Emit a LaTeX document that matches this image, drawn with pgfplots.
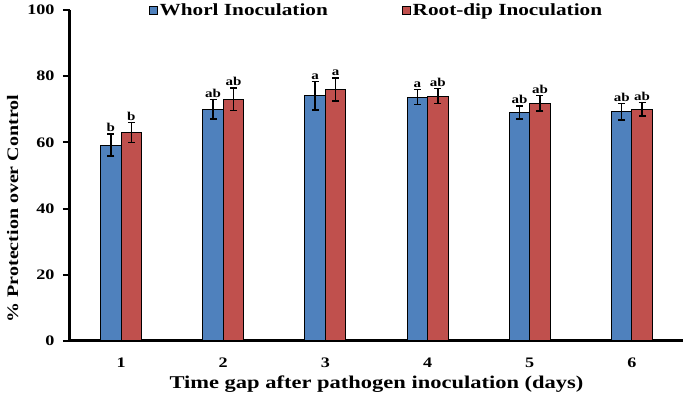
\documentclass[border=0pt]{standalone}
\usepackage{pgfplots}
\usepackage{pgfplotstable}
\pgfplotsset{compat=1.18}
\usepackage{fontspec}
\setmainfont{Liberation Serif}[FakeStretch=1.25]
\definecolor{wblue}{HTML}{4F81BD}
\definecolor{rred}{HTML}{C0504D}
\pgfplotstableread{
x b be bl r re rl
1 59.2 3.3 b 63.0 3.0 b
2 70.0 3.0 ab 73.1 3.4 ab
3 74.1 4.3 a 76.0 3.5 a
4 73.7 2.3 a 74.0 2.3 ab
5 69.0 2.0 ab 71.8 2.3 ab
6 69.3 2.5 ab 70.0 2.0 ab
}\data
\begin{document}
\begin{tikzpicture}
\begin{axis}[
 name=ax,
 width=613pt, height=331pt, scale only axis,
 xmin=0.5, xmax=6.5, ymin=0, ymax=100,
 axis x line*=bottom, axis y line*=left,
 axis line style={line width=3pt},
 xtick={1,...,6}, xtick style={draw=none},
 ytick={0,20,...,100}, tick align=outside,
 ytick style={line width=2pt, black}, major tick length=7pt,
 tick label style={font=\bfseries\fontsize{14.5}{16}\selectfont},
 xticklabel style={yshift=-6pt},
 yticklabel style={xshift=-5pt},
 /pgf/number format/assume math mode=true,
 xlabel={Time gap after pathogen inoculation (days)},
 ylabel={\% Protection over Control},
 xlabel style={font=\bfseries\fontsize{18}{20}\selectfont, yshift=-2pt},
 ylabel style={font=\bfseries\fontsize{16}{18}\selectfont, at={(ticklabel cs:0.4)}, yshift=2pt},
 legend style={at={(0.5,1.0)}, anchor=center, draw=none, fill=none,
   legend columns=2, font=\bfseries\fontsize{17}{20}\selectfont,
   /tikz/every even column/.append style={column sep=72pt}},
 legend image code/.code={\draw[#1, draw=black, line width=0.8pt] (0pt,-4pt) rectangle (8pt,4pt);},
 error bars/error bar style={line width=1.5pt, black},
 error bars/error mark options={rotate=90, mark size=3.5pt, line width=1.5pt, black},
]
\addplot[ybar, bar width=0.2, bar shift=0, fill=wblue, draw=black, line width=1pt,
  error bars/.cd, y dir=both, y explicit]
  table[x expr=\thisrow{x}-0.1, y=b, y error=be] \data;
\addlegendentry{Whorl Inoculation}
\addplot[ybar, bar width=0.2, bar shift=0, fill=rred, draw=black, line width=1pt,
  error bars/.cd, y dir=both, y explicit]
  table[x expr=\thisrow{x}+0.1, y=r, y error=re] \data;
\addlegendentry{Root-dip Inoculation}
\addplot[forget plot, draw=none, mark=none, nodes near coords, point meta=explicit symbolic,
  nodes near coords style={font=\bfseries\fontsize{12}{14}\selectfont, anchor=south, inner sep=2pt, black}]
  table[x expr=\thisrow{x}-0.1, y expr=\thisrow{b}+\thisrow{be}, meta=bl] \data;
\addplot[forget plot, draw=none, mark=none, nodes near coords, point meta=explicit symbolic,
  nodes near coords style={font=\bfseries\fontsize{12}{14}\selectfont, anchor=south, inner sep=2pt, black}]
  table[x expr=\thisrow{x}+0.1, y expr=\thisrow{r}+\thisrow{re}, meta=rl] \data;
\end{axis}
\pgfresetboundingbox
\path (ax.south west) ++(-70pt,-65pt) rectangle ++(685pt,406pt);
\end{tikzpicture}
\end{document}
